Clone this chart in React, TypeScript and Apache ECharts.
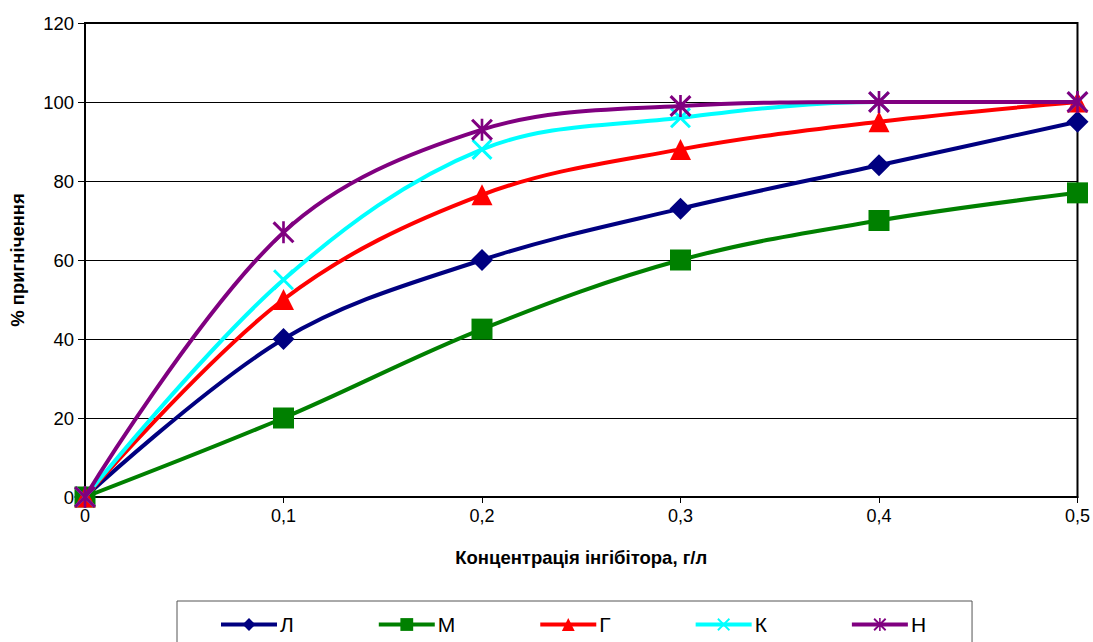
import React, { useEffect, useRef } from "react";
import * as echarts from "echarts";

const xValues = [0, 0.1, 0.2, 0.3, 0.4, 0.5];
const seriesNames = ["Л", "М", "Г", "К", "Н"];
const valuesL = [0, 40, 60, 73, 84, 95];
const valuesM = [0, 20, 42.5, 60, 70, 77];
const valuesG = [0, 50, 76.5, 88, 95, 100];
const valuesK = [0, 55, 88, 96, 100, 100];
const valuesN = [0, 67, 93, 99, 100, 100];
const yTicks = [0, 20, 40, 60, 80, 100, 120];

const FONT = 'Arial, "Liberation Sans", sans-serif';

const X_PATH = "path://M0,1 L1,0 L10,9 L9,10 Z M9,0 L10,1 L1,10 L0,9 Z";
const STAR_PATH =
  "path://M0,1 L1,0 L10,9 L9,10 Z M9,0 L10,1 L1,10 L0,9 Z M4.4,0 L5.6,0 L5.6,10 L4.4,10 Z";

export default function App() {
  const ref = useRef<HTMLDivElement>(null);
  useEffect(() => {
    document.body.style.margin = "0";
    const chart = echarts.init(ref.current!, null, { renderer: "svg" });
    const all = [valuesL, valuesM, valuesG, valuesK, valuesN];
    const colors = ["#000080", "#008000", "#FF0000", "#00FFFF", "#800080"];
    const symbols = ["diamond", "rect", "triangle", X_PATH, STAR_PATH];
    const sizes = [22, 21, 21, 21, 22];
    chart.setOption({
      animation: false,
      backgroundColor: "#fff",
      textStyle: { fontFamily: FONT },
      grid: {
        left: 85,
        right: 15,
        top: 23,
        bottom: 145,
        show: true,
        borderColor: "#000",
        borderWidth: 2,
        backgroundColor: "transparent",
      },
      legend: {
        left: 177,
        top: 601,
        data: seriesNames,
        itemWidth: 56,
        itemHeight: 16,
        itemGap: 83,
        borderColor: "#555",
        borderWidth: 1,
        padding: [13, 46, 22, 42],
        lineStyle: { width: 4 },
        textStyle: { fontSize: 21, color: "#000", fontFamily: FONT, padding: [0, 0, 0, -2] },
      },
      xAxis: {
        type: "value",
        min: 0,
        max: 0.5,
        interval: 0.1,
        name: "Концентрація інгібітора, г/л",
        nameLocation: "middle",
        nameGap: 51,
        nameTextStyle: { fontSize: 18.5, fontWeight: "bold", color: "#000", fontFamily: FONT },
        axisLine: { show: true, onZero: false, lineStyle: { color: "#000", width: 2 } },
        axisTick: { show: true, inside: false, length: 6, lineStyle: { color: "#000" } },
        axisLabel: {
          fontSize: 18,
          color: "#000",
          margin: 10,
          fontFamily: FONT,
          formatter: (v: number) => (v === 0 ? "0" : v.toFixed(1).replace(".", ",")),
        },
        splitLine: { show: false },
      },
      yAxis: {
        type: "value",
        min: yTicks[0],
        max: yTicks[yTicks.length - 1],
        interval: 20,
        name: "% пригнічення",
        nameLocation: "middle",
        nameGap: 58,
        nameTextStyle: { fontSize: 18.5, fontWeight: "bold", color: "#000", fontFamily: FONT },
        axisLine: { show: true, lineStyle: { color: "#000", width: 2 } },
        axisTick: { show: true, inside: false, length: 7, lineStyle: { color: "#000" } },
        axisLabel: { fontSize: 18.5, color: "#000", margin: 11, fontFamily: FONT },
        splitLine: { show: true, lineStyle: { color: "#000", width: 1 } },
      },
      series: all.map((vals, i) => ({
        name: seriesNames[i],
        type: "line",
        smooth: 0.35,
        data: vals.map((v, j) => [xValues[j], v]),
        symbol: symbols[i],
        symbolSize: sizes[i],
        showAllSymbol: true,
        lineStyle: { color: colors[i], width: 4 },
        itemStyle: { color: colors[i], borderWidth: 0 },
        z: 2 + i,
      })),
    });
    return () => chart.dispose();
  }, []);
  return <div ref={ref} style={{ width: 1093, height: 642 }} />;
}
